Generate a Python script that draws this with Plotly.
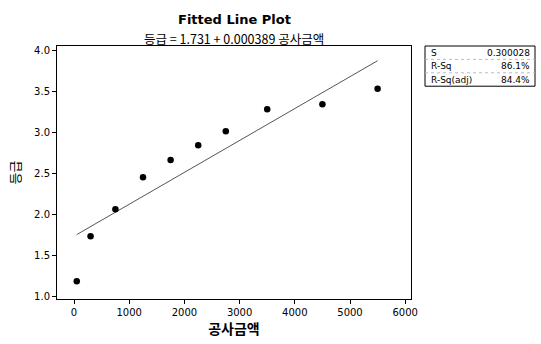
import plotly.graph_objects as go

# data
amount = [50, 300, 750, 1250, 1750, 2250, 2750, 3500, 4500, 5500]
grade = [1.18, 1.73, 2.06, 2.45, 2.66, 2.84, 3.01, 3.28, 3.34, 3.53]
intercept = 1.731
slope = 0.000389
stat_names = ["S", "R-Sq", "R-Sq(adj)"]
stat_values = ["0.300028", "86.1%", "84.4%"]
x_ticks = [0, 1000, 2000, 3000, 4000, 5000, 6000]
y_ticks = [1.0, 1.5, 2.0, 2.5, 3.0, 3.5, 4.0]

FONT = "DejaVu Sans, Noto Sans CJK KR"
KFONT = "Noto Sans CJK KR, DejaVu Sans"

line_x = [min(amount), max(amount)]
line_y = [intercept + slope * v for v in line_x]

fig = go.Figure()
fig.add_trace(go.Scatter(x=line_x, y=line_y, mode="lines",
                         line=dict(color="#555555", width=1), showlegend=False))
fig.add_trace(go.Scatter(x=amount, y=grade, mode="markers",
                         marker=dict(color="black", size=6.5), showlegend=False))

fig.update_layout(
    width=541, height=344,
    margin=dict(l=57, r=130, t=46, b=40),
    paper_bgcolor="white", plot_bgcolor="white",
    font=dict(family=FONT, size=10, color="black"),
    xaxis=dict(range=[-308, 6105], tickvals=x_ticks, ticktext=[str(v) for v in x_ticks],
               showgrid=False, zeroline=False, showline=True, linecolor="black",
               linewidth=1, mirror=True, ticks="outside", ticklen=4, tickcolor="black",
               title=dict(text="<b>공사금액</b>", font=dict(family=KFONT, size=14), standoff=4)),
    yaxis=dict(range=[0.965, 4.05], tickvals=y_ticks, ticktext=[f"{v:.1f}" for v in y_ticks],
               showgrid=False, zeroline=False, showline=True, linecolor="black",
               linewidth=1, mirror=True, ticks="outside", ticklen=4, tickcolor="black",
               title=dict(text="등급", font=dict(family=KFONT, size=13), standoff=10)),
)

fig.add_annotation(text="<b>Fitted Line Plot</b>", xref="paper", yref="paper",
                   x=0.5, y=1, yshift=36, showarrow=False,
                   font=dict(family=FONT, size=13, color="black"))
fig.add_annotation(text=f"등급 = {intercept} + {slope:.6f} 공사금액", xref="paper", yref="paper",
                   x=0.5, y=1, yshift=19, showarrow=False,
                   font=dict(family=KFONT, size=12.5, color="black"))

# statistics box (paper coords: plot spans 57..411 px, 46..304 px)
def px2x(p):
    return (p - 57) / (411 - 57)

def py2y(p):
    return (304 - p) / (304 - 46)

fig.add_shape(type="rect", xref="paper", yref="paper",
              x0=px2x(425), x1=px2x(535), y0=py2y(87), y1=py2y(46),
              line=dict(color="black", width=1))
for r in range(1, len(stat_names)):
    yy = 46 + r * (41 / 3)
    fig.add_shape(type="line", xref="paper", yref="paper",
                  x0=px2x(425), x1=px2x(535), y0=py2y(yy), y1=py2y(yy),
                  line=dict(color="#bbbbbb", width=1, dash="dot"))
for i, (n, v) in enumerate(zip(stat_names, stat_values)):
    yc = 46 + (i + 0.5) * (41 / 3)
    fig.add_annotation(text=n, xref="paper", yref="paper", x=px2x(429), y=py2y(yc),
                       xanchor="left", yanchor="middle", showarrow=False,
                       font=dict(family=FONT, size=9, color="black"))
    fig.add_annotation(text=v, xref="paper", yref="paper", x=px2x(532), y=py2y(yc),
                       xanchor="right", yanchor="middle", showarrow=False,
                       font=dict(family=FONT, size=9, color="black"))

fig.write_html("out.html")
